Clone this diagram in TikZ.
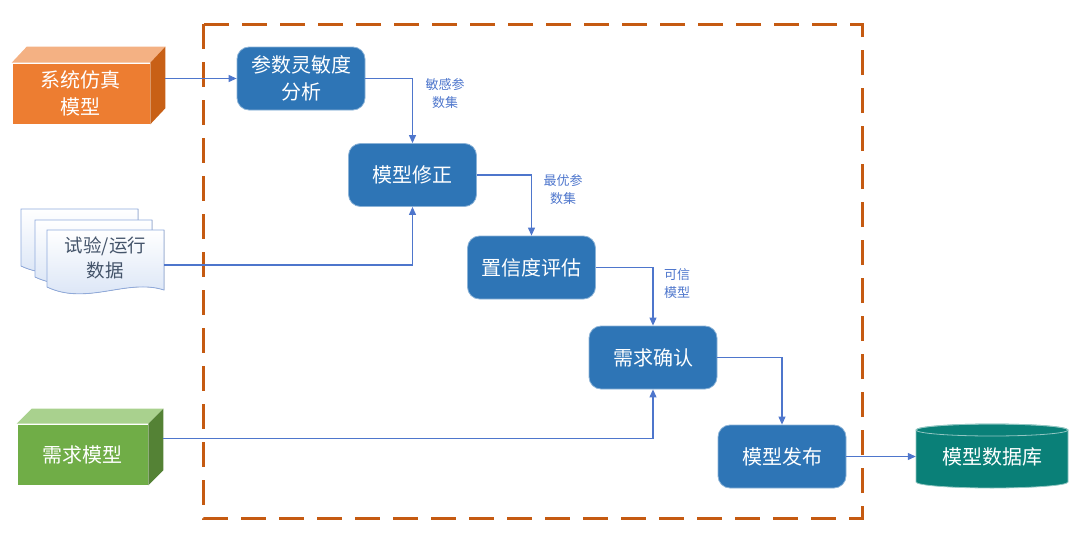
\documentclass[tikz,border=0pt]{standalone}
\usepackage{fontspec}
\setmainfont{Noto Sans CJK SC}
\usetikzlibrary{arrows.meta,positioning}
\definecolor{boxblue}{RGB}{46,117,182}
\definecolor{lineblue}{RGB}{78,118,204}
\definecolor{dashorange}{RGB}{197,90,17}
\definecolor{simorange}{RGB}{237,125,49}
\definecolor{simtop}{RGB}{244,177,131}
\definecolor{simside}{RGB}{200,96,22}
\definecolor{reqgreen}{RGB}{112,173,71}
\definecolor{reqtop}{RGB}{169,209,142}
\definecolor{reqside}{RGB}{84,130,53}
\definecolor{dbteal}{RGB}{10,128,120}
\definecolor{docline}{RGB}{143,170,220}
\definecolor{docfill}{RGB}{214,226,245}
\definecolor{fontgray}{RGB}{68,84,106}

\begin{document}
\begin{tikzpicture}[x=1pt, y=-1pt, >={Triangle[length=8pt,width=7pt]},
	procNode/.style={draw=boxblue!55!white, line width=0.8pt, fill=boxblue, rounded corners=12pt, minimum width=128pt, minimum height=63pt, inner sep=0pt, align=center, text=white, font=\fontsize{20}{27}\selectfont},
	cubeNode/.style={draw=white, line width=0.6pt, inner sep=0pt, align=center, text=white, font=\fontsize{20}{27}\selectfont},
	docSheet/.style={draw=docline, line width=0.8pt, top color=white, bottom color=docfill},
	dataNode/.style={minimum width=117pt, minimum height=57pt, inner sep=0pt, align=center, text=fontgray, font=\fontsize{18.5}{25}\selectfont},
	dbNode/.style={minimum width=152pt, minimum height=64pt, inner sep=0pt, text=white, font=\fontsize{20}{27}\selectfont},
	chainLine/.style={line width=1.1pt, ->, color=lineblue},
	flowLabel/.style={text=lineblue, align=center, inner sep=0pt, font=\fontsize{13}{18}\selectfont}
	]
	\useasboundingbox (0,0) rectangle (1080,546);
	
	% dashed frame
	\draw[dashorange, line width=3pt, dash pattern=on 25pt off 13pt] (203,24) rectangle (862,518);
	
	% process steps
	\node[procNode] (sens) at (301,78.5) {参数灵敏度\\分析};
	\node[procNode] (corr) at (412.5,175) {模型修正};
	\node[procNode] (eval) at (531.5,267.5) {置信度评估};
	\node[procNode] (conf) at (653,357.5) {需求确认};
	\node[procNode] (pub) at (782,456.5) {模型发布};
	
	% input boxes
	\node[cubeNode, fill=simorange, minimum width=138pt, minimum height=61pt] (sim) at (81,93.5) {系统仿真\\模型};
	\fill[simtop] (sim.north west) -- ([shift={(15,-16)}]sim.north west) -- ([shift={(15,-16)}]sim.north east) -- (sim.north east) -- cycle;
	\fill[simside] (sim.north east) -- ([shift={(15,-16)}]sim.north east) -- ([shift={(15,-16)}]sim.south east) -- (sim.south east) -- cycle;
	
	\node[cubeNode, fill=reqgreen, minimum width=131pt, minimum height=61pt] (req) at (82.5,454.5) {需求模型};
	\fill[reqtop] (req.north west) -- ([shift={(15,-15)}]req.north west) -- ([shift={(15,-15)}]req.north east) -- (req.north east) -- cycle;
	\fill[reqside] (req.north east) -- ([shift={(15,-15)}]req.north east) -- ([shift={(15,-15)}]req.south east) -- (req.south east) -- cycle;
	
	\foreach \dx/\dy in {21/209, 35/220, 47/230}
		\filldraw[docSheet] (\dx,\dy) -- (\dx+117,\dy) -- (\dx+117,\dy+60) .. controls (\dx+80,\dy+48) and (\dx+40,\dy+76) .. (\dx,\dy+57) -- cycle;
	\node[dataNode] (data) at (105.5,258) {试验/运行\\数据};
	
	% model database
	\filldraw[fill=dbteal, draw=dbteal!45!white, line width=0.8pt] (916,430) -- (916,482) arc[start angle=180, end angle=0, x radius=76, y radius=6] -- (1068,430) arc[start angle=0, end angle=-180, x radius=76, y radius=6] -- cycle;
	\draw[dbteal!45!white, line width=0.8pt] (992,430) ellipse[x radius=76, y radius=6];
	\node[dbNode] (db) at (992,456.5) {模型数据库};
	
	% connectors
	\draw[chainLine] ([shift={(15,-15)}]sim.east) -- (sens.west);
	\draw[chainLine] (sens.east) -| (corr.north);
	\draw[chainLine] (corr.east) -| (eval.north);
	\draw[chainLine] (eval.east) -| (conf.north);
	\draw[chainLine] (conf.east) -| (pub.north);
	\draw[chainLine] (pub.east) -- (db.west);
	\draw[chainLine] ([shift={(0,7)}]data.east) -| (corr.south);
	\draw[chainLine] ([shift={(15,-16)}]req.east) -| (conf.south);
	
	\node[flowLabel] (sensLabel) at (445,94) {敏感参\\数集};
	\node[flowLabel] (bestLabel) at (563,190) {最优参\\数集};
	\node[flowLabel] (credLabel) at (677,284) {可信\\模型};
\end{tikzpicture}
\end{document}
